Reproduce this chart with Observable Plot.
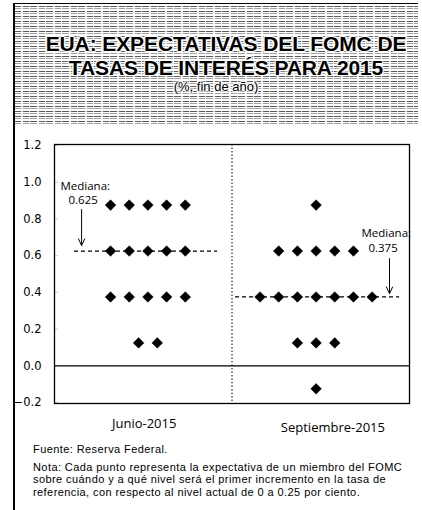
<!DOCTYPE html>
<html>
<head>
<meta charset="utf-8">
<script src="https://cdn.jsdelivr.net/npm/d3@7"></script>
<script src="https://cdn.jsdelivr.net/npm/@observablehq/plot@0.6"></script>
<style>
  html, body { margin: 0; padding: 0; background: #fff; }
  #page { position: relative; width: 422px; height: 510px; overflow: hidden; font-family: "Liberation Sans", Arial, sans-serif; color: #000; }
  #leftline { position: absolute; left: 13px; top: 3px; width: 1.5px; height: 507px; background: #000; }
  #header { position: absolute; left: 14px; top: 3px; width: 404px; height: 122px;
    border-top: 1.5px solid #000;
    background-color: #bdbdbd;
    background-image:
      repeating-linear-gradient(to right, rgba(255,255,255,0) 0px, rgba(255,255,255,0) 7px, rgba(255,255,255,0.85) 7px, rgba(255,255,255,0.85) 9px, rgba(255,255,255,0) 9px, rgba(255,255,255,0) 15px, rgba(255,255,255,0.85) 15px, rgba(255,255,255,0.85) 16px),
      repeating-linear-gradient(to bottom, #ffffff 0px, #ffffff 2px, #5a5a5a 2px, #5a5a5a 3px, #ffffff 3px, #ffffff 4px, #a0a0a0 4px, #a0a0a0 5px);
  }
  .title { position: absolute; left: 20px; right: 0; text-align: center; font-weight: bold; font-size: 21px; line-height: 23px; letter-spacing: -0.1px; white-space: nowrap;
    text-shadow: 0 0 2px #fff, 0 0 2px #fff, 1px 1px 1px #fff, -1px -1px 1px #fff, 1px -1px 1px #fff, -1px 1px 1px #fff; }
  .sub { position: absolute; left: 0; width: 100%; text-align: center; font-size: 13px; line-height: 14.5px;
    text-shadow: 0 0 2px #fff, 1px 1px 1px #fff, -1px -1px 1px #fff, 1px -1px 1px #fff, -1px 1px 1px #fff; }
  #chart { position: absolute; left: 0; top: 130px; }
  .foot { position: absolute; left: 33px; font-size: 11px; line-height: 12.3px; letter-spacing: 0.42px; white-space: nowrap; }
</style>
</head>
<body>
<div id="page">
  <div id="header">
    <div class="title" style="top:28px">EUA: EXPECTATIVAS DEL FOMC DE</div>
    <div class="title" style="top:52px">TASAS DE INTERÉS PARA 2015</div>
    <div class="sub" style="top:76px">(%, fin de año)</div>
  </div>
  <div id="leftline"></div>
  <div id="chart"></div>
  <div class="foot" style="top:443px">Fuente: Reserva Federal.</div>
  <div class="foot" style="top:461px">Nota: Cada punto representa la expectativa de un miembro del FOMC<br>sobre cuándo y a qué nivel será el primer incremento en la tasa de<br>referencia, con respecto al nivel actual de 0 a 0.25 por ciento.</div>
</div>
<script>
// ---- data ----
const groups = ["Junio-2015", "Septiembre-2015"];
const levels = [0.875, 0.625, 0.375, 0.125, -0.125];
const juneCounts = [5, 5, 5, 2, 0];
const septCounts = [1, 5, 7, 3, 1];
const medians = [0.625, 0.375];
const yTicks = [-0.2, 0, 0.2, 0.4, 0.6, 0.8, 1.0, 1.2];

// ---- layout (slot units along x) ----
const centers = [5, 14];
const labelX = [4.8, 14.9];
const medianSpan = [[1.07, 8.73], [9.69, 18.47]];
const divider = 9.5;

const dots = [];
[juneCounts, septCounts].forEach((counts, g) => {
  counts.forEach((n, li) => {
    for (let i = 0; i < n; i++) dots.push({group: groups[g], value: levels[li], slot: centers[g] + i - (n - 1) / 2});
  });
});
const medianLines = medians.map((m, g) => ({group: groups[g], value: m, x1: medianSpan[g][0], x2: medianSpan[g][1]}));
const notes = [
  {text: "Mediana:", x: 0.32, y: 0.976},
  {text: medians[0].toFixed(3), x: 0.75, y: 0.90},
  {text: "Mediana:", x: 16.43, y: 0.72},
  {text: medians[1].toFixed(3), x: 16.8, y: 0.64}
];
const arrows = [
  {x: 1.45, y1: 0.851, y2: 0.655},
  {x: 17.93, y1: 0.584, y2: 0.393}
];

const chart = Plot.plot({
  width: 422,
  height: 310,
  marginLeft: 54,
  marginRight: 13,
  marginTop: 14,
  marginBottom: 37,
  style: {fontFamily: "'Open Sans', sans-serif", background: "transparent"},
  x: {domain: [0, 19], axis: null},
  y: {domain: [-0.205, 1.205], axis: null},
  marks: [
    Plot.frame({stroke: "#000", strokeWidth: 1.3}),
    Plot.axisY(yTicks, {tickSize: -4, tickPadding: 17, tickFormat: d3.format(".1f"), fontSize: 11.5, fontFamily: "DejaVu Sans", fill: "#000", stroke: "#000", strokeWidth: 0.2}),
    Plot.ruleY([0], {stroke: "#000", strokeWidth: 1.3}),
    Plot.ruleX([divider], {stroke: "#000", strokeWidth: 1, strokeDasharray: "1.5,2"}),
    Plot.ruleY(medianLines, {y: "value", x1: "x1", x2: "x2", stroke: "#000", strokeWidth: 1.2, strokeDasharray: "4,3"}),
    Plot.dot(dots, {x: "slot", y: "value", symbol: "diamond2", r: 4.8, fill: "#000", stroke: "#000", strokeWidth: 0.5}),
    Plot.arrow(arrows, {x1: "x", x2: "x", y1: "y1", y2: "y2", stroke: "#000", strokeWidth: 1, headLength: 11, headAngle: 50}),
    Plot.text(notes, {x: "x", y: "y", text: "text", textAnchor: "start", fontSize: 11.5, fill: "#000"}),
    Plot.text([groups[0]], {x: labelX[0], frameAnchor: "bottom", dy: 24, fontSize: 13, fill: "#000"}),
    Plot.text([groups[1]], {x: labelX[1], frameAnchor: "bottom", dy: 28, fontSize: 13, fill: "#000"})
  ]
});
document.getElementById("chart").appendChild(chart);
</script>
</body>
</html>
